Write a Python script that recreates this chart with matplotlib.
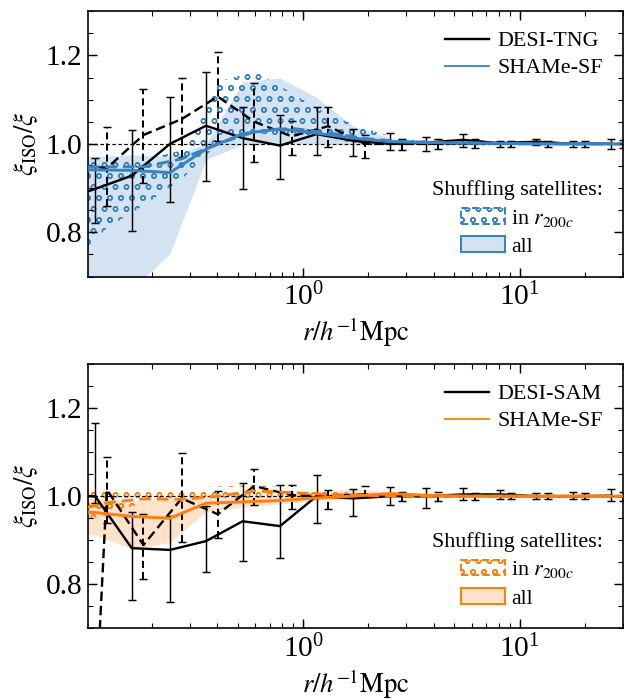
import matplotlib
matplotlib.use("Agg")
import matplotlib.pyplot as plt
from matplotlib.colors import to_rgb
from matplotlib.lines import Line2D
from matplotlib.patches import Patch
from matplotlib.ticker import MultipleLocator

plt.rcParams["font.family"] = "serif"
plt.rcParams["font.serif"] = ["Liberation Serif", "DejaVu Serif"]
plt.rcParams["mathtext.fontset"] = "stix"
plt.rcParams["hatch.linewidth"] = 1.5

# separation bins (h^-1 Mpc); the "in r200c" runs are plotted slightly shifted
r_all = [0.0737, 0.109, 0.161, 0.242, 0.355, 0.524, 0.780, 1.152, 1.702,
         2.513, 3.71, 5.48, 8.10, 11.97, 17.67, 26.55]
r_in = [0.0834, 0.1234, 0.1823, 0.274, 0.402, 0.593, 0.883, 1.304, 1.927,
        2.845, 4.20, 6.20, 9.17, 13.55, 20.0, 30.05]

# --- DESI-TNG / SHAMe-SF (top) ---
tng_all = [0.87, 0.898, 0.928, 1.0, 1.041, 1.013, 0.996, 1.022, 1.007,
           1.0, 1.003, 1.009, 1.0015, 1.005, 1.0, 1.0]
tng_all_lo = [0.80, 0.821, 0.804, 0.869, 0.915, 0.898, 0.920, 0.975, 0.973,
              0.987, 0.983, 0.994, 0.994, 0.997, 0.994, 0.989]
tng_all_hi = [0.94, 0.968, 1.032, 1.105, 1.162, 1.083, 1.066, 1.084, 1.033,
              1.024, 1.016, 1.022, 1.007, 1.012, 1.007, 1.011]

tng_in = [0.955, 0.945, 1.020, 1.056, 1.107, 1.05, 1.017, 1.04, 1.0,
          1.0, 1.0, 1.002, 1.0, 1.0, 1.0, 1.0]
tng_in_lo = [0.88, 0.86, 0.912, 0.971, 1.007, 0.96, 0.975, 0.994, 0.968,
             0.985, 0.988, 0.99, 0.993, 0.993, 0.993, 0.99]
tng_in_hi = [1.03, 1.039, 1.124, 1.15, 1.207, 1.137, 1.052, 1.084, 1.02,
             1.012, 1.01, 1.012, 1.006, 1.007, 1.007, 1.008]

shame_tng_all = [0.942, 0.941, 0.940, 0.935, 0.988, 1.023, 1.034, 1.024, 1.013,
                 1.005, 1.003, 1.002, 1.001, 1.0, 1.0, 1.0]
shame_tng_all_lo = [0.55, 0.60, 0.67, 0.752, 0.965, 0.998, 1.0, 1.0, 0.998,
                    0.998, 0.998, 0.998, 0.998, 0.998, 0.998, 0.998]
shame_tng_all_hi = [0.975, 0.972, 0.975, 0.972, 1.0, 1.14, 1.149, 1.105, 1.04,
                    1.013, 1.006, 1.004, 1.003, 1.003, 1.003, 1.003]

shame_tng_in = [0.948, 0.948, 0.948, 0.966, 1.0, 1.027, 1.035, 1.025, 1.012,
                1.005, 1.003, 1.002, 1.001, 1.0, 1.0, 1.0]
shame_tng_in_lo = [0.72, 0.81, 0.86, 0.92, 1.0, 1.025, 1.015, 1.01, 1.0,
                   0.998, 0.998, 0.998, 0.998, 0.998, 0.998, 0.998]
shame_tng_in_hi = [0.965, 0.965, 0.965, 0.985, 1.14, 1.165, 1.115, 1.066, 1.035,
                   1.01, 1.006, 1.004, 1.003, 1.003, 1.003, 1.003]

# --- DESI-SAM / SHAMe-SF (bottom) ---
sam_all = [1.0, 1.0, 0.882, 0.878, 0.898, 0.943, 0.932, 1.0, 0.995,
           1.0, 1.0, 1.004, 1.004, 1.0, 1.0, 1.001]
sam_all_lo = [0.98, 0.985, 0.764, 0.759, 0.827, 0.852, 0.859, 0.94, 0.956,
              0.981, 0.974, 0.991, 0.993, 0.993, 0.993, 0.988]
sam_all_hi = [1.17, 1.167, 0.965, 0.955, 0.977, 1.03, 1.026, 1.047, 1.017,
              1.02, 1.019, 1.019, 1.013, 1.008, 1.009, 1.016]

sam_in = [-0.65, 1.015, 0.889, 0.995, 0.959, 1.023, 1.002, 1.0, 1.004,
          1.0, 1.0, 1.0, 1.0, 1.0, 1.0, 1.0]
sam_in_lo = [-0.8, 0.94, 0.811, 0.896, 0.906, 0.98, 0.97, 0.971, 0.997,
             0.99, 0.99, 0.992, 0.993, 0.993, 0.993, 0.99]
sam_in_hi = [-0.5, 1.09, 0.959, 1.097, 1.011, 1.062, 1.026, 1.015, 1.023,
             1.01, 1.01, 1.008, 1.007, 1.007, 1.007, 1.01]

shame_sam_all = [0.965, 0.963, 0.954, 0.95, 0.984, 0.987, 0.99, 0.996, 1.0,
                 1.006, 1.002, 1.0, 1.0, 1.0, 1.0, 1.0]
shame_sam_all_lo = [0.91, 0.912, 0.88, 0.895, 0.965, 0.975, 0.982, 0.99, 0.993,
                    0.996, 0.998, 0.998, 0.998, 0.998, 0.998, 0.998]
shame_sam_all_hi = [0.99, 0.995, 0.99, 0.995, 1.0, 1.0, 1.0, 1.008, 1.018,
                    1.01, 1.004, 1.003, 1.003, 1.003, 1.003, 1.003]

shame_sam_in = [0.965, 0.985, 0.994, 0.993, 1.0, 1.012, 1.008, 1.004, 1.002,
                1.0, 1.0, 1.0, 1.0, 1.0, 1.0, 1.0]
shame_sam_in_lo = [0.93, 0.96, 0.985, 0.985, 0.99, 0.995, 0.995, 0.997, 0.998,
                   0.999, 0.999, 0.999, 0.999, 0.999, 0.999, 0.999]
shame_sam_in_hi = [1.02, 1.02, 1.02, 1.02, 1.022, 1.025, 1.02, 1.012, 1.006,
                   1.003, 1.003, 1.003, 1.003, 1.003, 1.003, 1.003]

BLUE = "#3a83c1"
ORANGE = "#ff7f0e"
DASH = (4.0, 2.0)


def errbar(ax, x, y, lo, hi, dashed=False):
    yerr = [[v - l for v, l in zip(y, lo)], [h - v for v, h in zip(y, hi)]]
    elw = 2.2 if dashed else 1.6
    eb = ax.errorbar(x, y, yerr=yerr, color="k", lw=2.6, elinewidth=elw,
                     capsize=4.5, capthick=1.6, zorder=3)
    if dashed:
        eb[0].set_dashes(DASH)
        eb[2][0].set_linestyle((0, (3.5, 2.0)))
    return eb


def panel(ax, sim_label, color, d_all, d_all_lo, d_all_hi, d_in, d_in_lo, d_in_hi,
          s_all, s_all_lo, s_all_hi, s_in, s_in_lo, s_in_hi):
    band_rgba = (*to_rgb(color), 0.22)
    ax.fill_between(r_all, s_all_lo, s_all_hi, color=band_rgba, lw=0, zorder=1)
    ax.fill_between(r_in, s_in_lo, s_in_hi, facecolor="none", edgecolor=color,
                    hatch="o", lw=0, zorder=1.5)
    ax.axhline(1.0, color="k", ls=(0, (3, 2)), lw=1.3, zorder=2)

    errbar(ax, r_all, d_all, d_all_lo, d_all_hi)
    errbar(ax, r_in, d_in, d_in_lo, d_in_hi, dashed=True)

    ax.plot(r_all, s_all, color=color, lw=3.2, zorder=4)
    ax.plot(r_in, s_in, color=color, lw=3.2, dashes=DASH, zorder=4)

    ax.set_xscale("log")
    ax.set_xlim(0.101, 30)
    ax.set_ylim(0.7, 1.3)
    ax.yaxis.set_major_locator(MultipleLocator(0.2))
    ax.yaxis.set_minor_locator(MultipleLocator(0.05))
    ax.tick_params(which="both", direction="in", top=True, right=True, labelsize=32)
    ax.tick_params(which="major", length=10, width=1.6)
    ax.tick_params(which="minor", length=5.5, width=1.2)
    ax.tick_params(axis="y", pad=6)
    ax.tick_params(axis="x", pad=7)
    for sp in ax.spines.values():
        sp.set_linewidth(1.8)

    ax.set_xlabel(r"$r/h^{-1}{\rm Mpc}$", fontsize=29, labelpad=4)
    ax.set_ylabel(r"$\xi_{\rm ISO}/\xi$", fontsize=29, labelpad=6)

    h_lines = [Line2D([], [], color="k", lw=2.6), Line2D([], [], color=color, lw=2.0)]
    leg1 = ax.legend(h_lines, [sim_label, "SHAMe-SF"], loc="upper right",
                     frameon=False, fontsize=24, handlelength=2.0,
                     labelspacing=0.3, handletextpad=0.4)
    ax.add_artist(leg1)

    h_patches = [
        Patch(facecolor="white", edgecolor=color, hatch="o", lw=2.2, ls="--"),
        Patch(facecolor=band_rgba, edgecolor=color, lw=2.2),
    ]
    ax.legend(h_patches, [r"in $r_{200c}$", "all"], loc="lower right",
              frameon=False, fontsize=24, title="Shuffling satellites:",
              title_fontsize=24, handlelength=2.0, labelspacing=0.35,
              handletextpad=0.3)


fig = plt.figure(figsize=(624 / 66, 700 / 66), dpi=66)
ax_top = fig.add_axes([0.141, 0.605, 0.857, 0.379])
ax_bot = fig.add_axes([0.141, 0.1024, 0.857, 0.3776])

panel(ax_top, "DESI-TNG", BLUE, tng_all, tng_all_lo, tng_all_hi,
      tng_in, tng_in_lo, tng_in_hi, shame_tng_all, shame_tng_all_lo,
      shame_tng_all_hi, shame_tng_in, shame_tng_in_lo, shame_tng_in_hi)
panel(ax_bot, "DESI-SAM", ORANGE, sam_all, sam_all_lo, sam_all_hi,
      sam_in, sam_in_lo, sam_in_hi, shame_sam_all, shame_sam_all_lo,
      shame_sam_all_hi, shame_sam_in, shame_sam_in_lo, shame_sam_in_hi)

fig.savefig("out.png", dpi=66)
